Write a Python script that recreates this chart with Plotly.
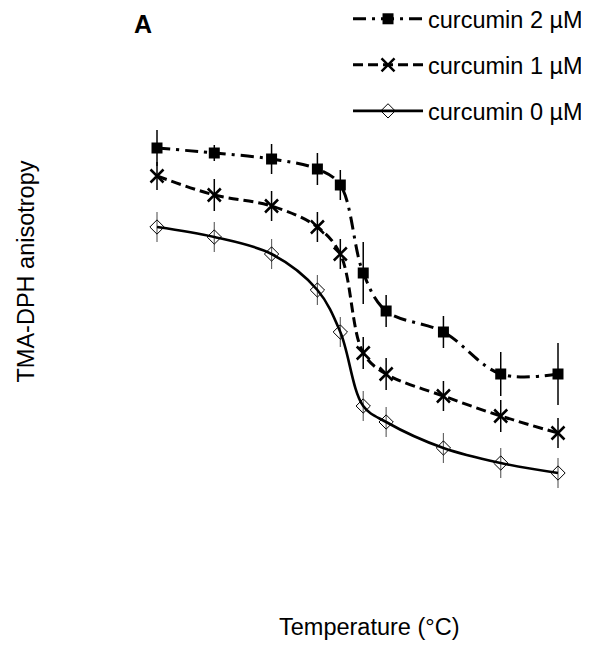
import plotly.graph_objects as go

temperature = [10, 15, 20, 24, 26, 28, 30, 35, 40, 45]

curcumin2 = [0.3400, 0.3375, 0.3345, 0.3295, 0.3215, 0.2775, 0.2585, 0.2480, 0.2270, 0.2270]
curcumin2_err = [0.0090, 0.0040, 0.0075, 0.0080, 0.0075, 0.0155, 0.0080, 0.0080, 0.0110, 0.0155]

curcumin1 = [0.3260, 0.3165, 0.3110, 0.3005, 0.2870, 0.2375, 0.2270, 0.2160, 0.2060, 0.1975]
curcumin1_err = [0.0070, 0.0080, 0.0075, 0.0075, 0.0075, 0.0080, 0.0080, 0.0075, 0.0080, 0.0075]

curcumin0 = [0.3005, 0.2955, 0.2870, 0.2690, 0.2480, 0.2110, 0.2030, 0.1900, 0.1825, 0.1775]
curcumin0_err = [0.0075, 0.0075, 0.0075, 0.0075, 0.0075, 0.0075, 0.0075, 0.0075, 0.0075, 0.0075]

names = ["curcumin 2 µM", "curcumin 1 µM", "curcumin 0 µM"]

FONT = "Liberation Sans, Arial, sans-serif"
FS = 23.5

fig = go.Figure()

fig.add_trace(go.Scatter(
    x=temperature, y=curcumin2, name=names[0], legendgroup="g2",
    mode="lines+markers", line=dict(color="black", width=3, dash="13px,6px,3px,6px", shape="spline"),
    marker=dict(symbol="square", size=11, color="black"),
    error_y=dict(type="data", array=curcumin2_err, color="black", thickness=1.5, width=0),
))
fig.add_trace(go.Scatter(
    x=temperature, y=curcumin1, name=names[1], legendgroup="g1",
    mode="lines+markers", line=dict(color="black", width=3, dash="10px,5px", shape="spline"),
    marker=dict(symbol="x-thin-open", size=13, color="black", line=dict(width=2.5, color="black")),
    error_y=dict(type="data", array=curcumin1_err, color="black", thickness=1.5, width=0),
))
fig.add_trace(go.Scatter(
    x=temperature, y=curcumin0, name=names[2], legendgroup="g0",
    mode="lines+markers", line=dict(color="black", width=2.6, shape="spline"),
    marker=dict(symbol="diamond-open", size=11, color="black", line=dict(width=1, color="black")),
    error_y=dict(type="data", array=curcumin0_err, color="#666666", thickness=1.2, width=0),
))

fig.update_layout(
    width=589, height=645,
    margin=dict(l=92, r=17, t=112, b=108, autoexpand=False),
    paper_bgcolor="white", plot_bgcolor="white",
    font=dict(family=FONT, color="black", size=FS),
    xaxis=dict(range=[5.025, 46.92], showgrid=False, zeroline=False, showline=False,
               showticklabels=False, ticks=""),
    yaxis=dict(range=[0.1415, 0.354], showgrid=False, zeroline=False, showline=False,
               showticklabels=False, ticks=""),
    legend=dict(x=0.5167, y=1.2894, xref="paper", yref="paper", xanchor="left", yanchor="top",
                font=dict(size=FS, family=FONT), traceorder="grouped", tracegroupgap=12.5,
                itemwidth=70, bgcolor="rgba(0,0,0,0)"),
    annotations=[
        dict(text="<b>A</b>", xref="paper", yref="paper", x=0, y=1, xshift=43, yshift=112,
             showarrow=False, font=dict(size=25, family=FONT), xanchor="center", yanchor="top"),
        dict(text="TMA-DPH anisotropy", xref="paper", yref="paper", x=0, y=0.5, xshift=-75,
             yshift=61, textangle=-90, showarrow=False, font=dict(size=FS, family=FONT),
             xanchor="center", yanchor="middle"),
        dict(text="Temperature (°C)", xref="paper", yref="paper", x=0.5, y=0, yshift=-82,
             xshift=29, showarrow=False, font=dict(size=FS, family=FONT),
             xanchor="center", yanchor="middle"),
    ],
)

fig.write_html("out.html")
